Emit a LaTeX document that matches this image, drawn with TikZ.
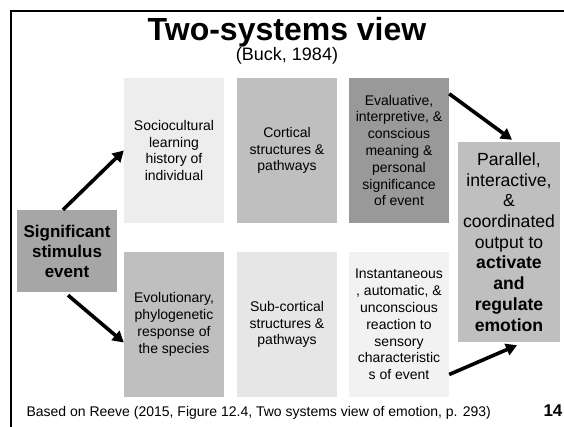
\documentclass[tikz,border=0pt]{standalone}
\usepackage{fontspec}
\setmainfont{Liberation Sans}
\usetikzlibrary{arrows.meta}

\definecolor{grayA}{HTML}{EDEDED}
\definecolor{grayB}{HTML}{BFBFBF}
\definecolor{grayC}{HTML}{999999}
\definecolor{grayD}{HTML}{A6A6A6}
\definecolor{grayE}{HTML}{E6E6E6}
\definecolor{grayF}{HTML}{F2F2F2}

\begin{document}
\begin{tikzpicture}
[x=1pt, y=-1pt,
 box/.style={minimum width=100pt, minimum height=145pt, inner sep=0pt,
             align=center, font=\fontsize{14}{16.8}\selectfont},
 arr/.style={line width=3.6pt, -{Triangle[length=11pt,width=12pt]}}]
  \useasboundingbox (0,0) rectangle (564,427);
  \draw[line width=2pt] (11,427) -- (11,11) -- (564,11);

  % heading
  \node[anchor=base, font=\fontsize{32}{36}\selectfont\bfseries] (title) at (287,41) {Two-systems view};
  \node[anchor=base, font=\fontsize{18}{20}\selectfont] (buck) at (287,61) {(Buck, 1984)};

  % upper row
  \node[box, fill=grayA] (socio) at (174,150.5) {Sociocultural\\learning\\history of\\individual};
  \node[box, fill=grayB] (cort) at (287,150.5) {Cortical\\structures \&\\pathways};
  \node[box, fill=grayC] (eval) at (399,150.5) {Evaluative,\\interpretive, \&\\conscious\\meaning \&\\personal\\significance\\of event};
  % lower row
  \node[box, fill=grayB] (evo) at (174,324.5) {Evolutionary,\\phylogenetic\\response of\\the species};
  \node[box, fill=grayE] (sub) at (287,324.5) {Sub-cortical\\structures \&\\pathways};
  \node[box, fill=grayF] (inst) at (399,324.5) {Instantaneous\\, automatic, \&\\unconscious\\reaction to\\sensory\\characteristic\\s of event};

  \node[box, fill=grayD, minimum height=82pt, font=\fontsize{17}{20}\selectfont\bfseries]
    (sig) at (67,251) {Significant\\stimulus\\event};
  \node[box, fill=grayB, minimum width=102pt, minimum height=200pt, font=\fontsize{17.6}{20.7}\selectfont]
    (par) at (509,242) {Parallel,\\interactive,\\\&\\coordinated\\output to\\\textbf{activate}\\\textbf{and}\\\textbf{regulate}\\\textbf{emotion}};

  \draw[arr] ([xshift=-4pt]sig.north) -- (socio.west);
  \draw[arr] ([xshift=1pt,yshift=-3pt]sig.south) -- ([yshift=-18pt]evo.west);
  \draw[arr] ([yshift=-16pt]eval.north east) -- ([xshift=3pt,yshift=2pt]par.north);
  \draw[arr] ([yshift=-50pt]inst.east) -- ([xshift=8pt,yshift=-3pt]par.south);

  \node[anchor=base west, font=\fontsize{14}{16}\selectfont] (src) at (23,416)
    {Based on Reeve (2015, Figure 12.4, Two systems view of emotion, p. 293)};
  \node[anchor=base west, font=\fontsize{17}{20}\selectfont\bfseries] (num) at (540,416) {14};
\end{tikzpicture}
\end{document}
